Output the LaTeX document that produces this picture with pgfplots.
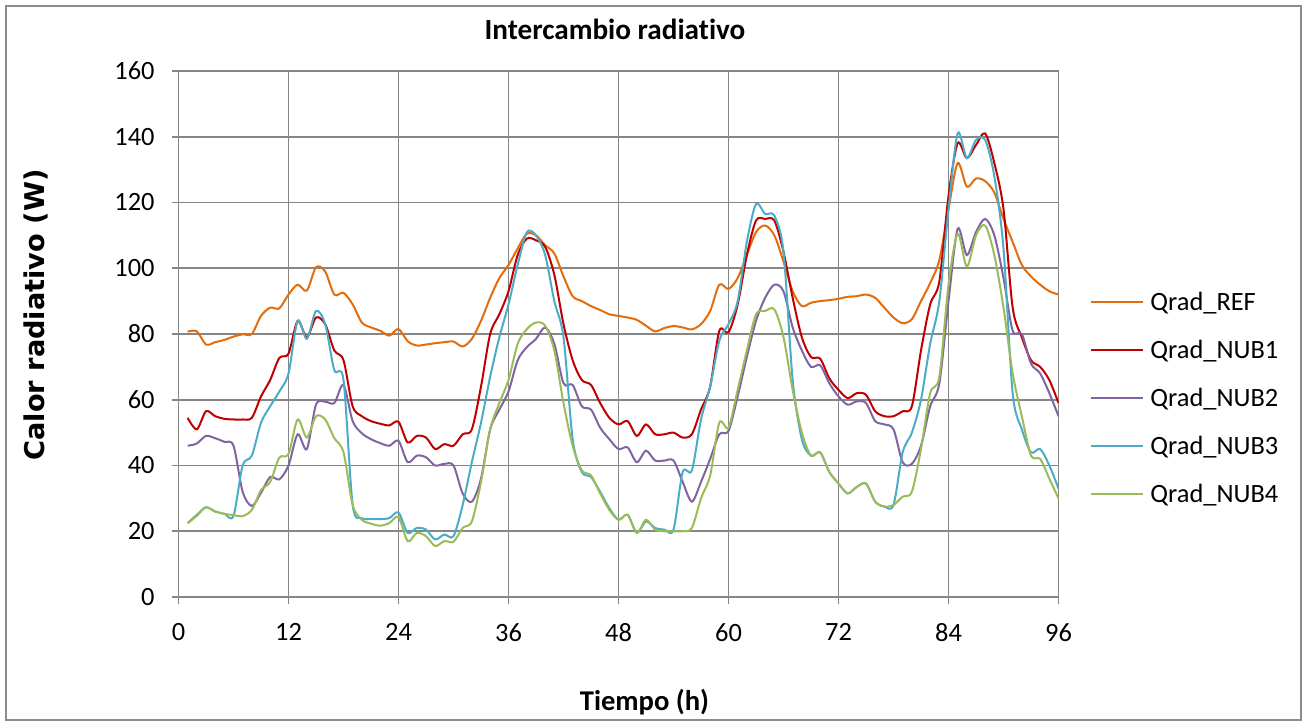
\documentclass[border=0pt]{standalone}
\usepackage{fontspec}
\setmainfont{Carlito}[Ligatures=NoCommon]
\newfontfamily\dejavu{DejaVu Sans}
\usepackage{pgfplots}
\usepackage{pgfplotstable}
\pgfplotsset{compat=1.18}

\definecolor{gridgray}{HTML}{868686}
\definecolor{framegray}{HTML}{8C8C8C}
\definecolor{cref}{HTML}{E46C0A}
\definecolor{cnubA}{HTML}{C00000}
\definecolor{cnubB}{HTML}{8064A2}
\definecolor{cnubC}{HTML}{4BACC6}
\definecolor{cnubD}{HTML}{9BBB59}

% Hourly radiative heat exchange (W)
\pgfplotstableread{
h ref n1 n2 n3 n4
1 80.7 54.5 46.0 22.5 22.4
2 80.8 51.0 46.7 25.0 24.7
3 76.8 56.5 49.0 27.3 27.3
4 77.5 55.0 48.3 26.0 26.0
5 78.2 54.2 47.2 25.3 25.3
6 79.2 54.0 46.0 24.7 24.9
7 79.9 54.0 32.0 40.0 24.6
8 80.0 54.5 27.7 43.0 26.5
9 85.5 61.0 31.7 53.0 32.5
10 88.0 66.0 36.5 58.0 35.0
11 87.8 72.7 35.8 62.5 42.4
12 92.0 74.0 40.0 68.0 43.5
13 95.0 84.0 49.5 84.0 54.0
14 93.2 79.0 45.0 78.5 48.5
15 100.3 85.0 58.5 87.0 55.0
16 99.0 83.0 59.4 83.0 54.0
17 92.0 75.0 59.0 69.0 48.3
18 92.5 72.0 64.5 66.0 44.0
19 89.0 58.0 53.5 28.0 28.0
20 83.5 55.0 49.8 24.0 23.5
21 82.0 53.5 48.0 23.7 22.3
22 81.0 52.7 46.8 23.7 21.7
23 79.5 52.2 46.0 24.0 22.5
24 81.5 53.3 47.5 25.7 24.3
25 77.8 47.0 41.0 19.5 17.0
26 76.5 49.0 43.0 21.0 19.5
27 76.8 48.5 42.5 20.5 18.5
28 77.2 45.0 40.0 17.5 15.5
29 77.5 46.5 40.5 19.0 17.0
30 77.7 46.0 40.0 18.5 16.8
31 76.2 49.5 31.5 28.0 21.0
32 78.5 51.0 29.0 41.0 23.0
33 84.0 64.0 36.0 53.0 35.0
34 91.0 80.0 51.0 67.0 51.0
35 97.0 86.0 57.0 79.0 59.0
36 101.0 93.0 62.5 89.0 66.0
37 106.0 104.0 72.0 101.0 77.0
38 110.5 109.0 76.0 111.0 81.5
39 110.0 108.5 78.5 110.0 83.5
40 107.0 106.5 82.0 104.0 82.5
41 104.5 98.0 77.0 90.0 75.0
42 97.5 83.0 65.0 79.0 59.0
43 91.5 72.0 64.5 48.0 46.0
44 90.0 66.0 58.0 38.0 38.5
45 88.5 64.5 57.0 36.5 37.0
46 87.3 59.0 51.5 32.0 31.5
47 86.0 54.5 48.0 27.0 26.5
48 85.5 52.5 45.0 23.5 23.5
49 85.0 53.5 45.5 25.0 25.0
50 84.3 49.0 41.0 19.5 19.5
51 82.5 52.5 44.5 23.0 23.5
52 80.8 49.5 41.5 21.0 20.5
53 81.8 49.5 41.5 20.5 20.0
54 82.4 50.0 41.5 20.5 20.0
55 82.0 48.5 35.0 38.0 20.0
56 81.4 49.5 29.0 38.5 21.0
57 83.0 57.0 35.0 54.0 30.0
58 87.0 64.0 42.0 64.0 37.0
59 95.0 81.0 49.5 78.0 53.0
60 93.7 80.5 50.5 83.0 51.5
61 97.0 89.0 61.0 90.0 63.0
62 104.0 104.0 73.0 108.0 75.0
63 111.0 114.5 84.0 119.5 86.0
64 113.0 115.0 91.0 116.5 87.0
65 110.0 114.5 95.0 116.0 87.5
66 102.0 105.0 93.0 105.0 79.0
67 93.0 91.0 82.0 66.0 63.0
68 88.5 79.0 75.0 48.0 50.0
69 89.5 73.0 70.0 43.0 43.0
70 90.0 72.5 70.5 44.0 44.0
71 90.3 66.5 65.0 38.0 38.0
72 90.7 63.0 61.0 34.5 34.5
73 91.3 60.5 58.5 31.5 31.5
74 91.5 62.0 59.5 33.5 33.5
75 92.0 61.5 59.0 34.5 34.5
76 91.0 56.5 53.5 29.0 29.0
77 88.0 55.0 52.5 27.5 27.5
78 85.0 55.0 51.0 28.0 28.0
79 83.3 56.5 41.0 44.0 30.5
80 84.5 58.0 40.5 50.0 32.0
81 90.0 75.0 46.0 60.0 45.0
82 95.5 89.0 58.0 77.0 62.0
83 102.5 96.0 65.0 90.0 67.0
84 118.0 122.0 90.0 118.0 95.0
85 132.0 138.0 112.0 141.0 110.5
86 124.8 133.5 104.0 133.5 100.5
87 127.3 137.5 111.0 139.0 110.0
88 126.5 141.0 115.0 139.0 113.0
89 123.0 132.0 110.0 128.0 104.0
90 115.0 118.0 97.0 106.0 88.0
91 108.0 88.0 81.0 62.0 68.0
92 101.0 79.0 80.0 51.0 55.0
93 97.5 72.0 71.0 44.0 43.0
94 95.0 70.0 68.0 45.0 42.0
95 93.0 66.0 62.0 40.0 36.0
96 92.0 59.0 55.0 33.0 30.0
}\datatab

\begin{document}
\begin{tikzpicture}
\path[use as bounding box] (-89.25pt,-64.5pt) rectangle (562.75pt,298.5pt);
\draw[framegray, line width=0.65pt] (-86.25pt,-61.5pt) rectangle (561.25pt,295.5pt);
\begin{axis}[
  at={(0pt,0pt)}, anchor=south west,
  width=440pt, height=263pt, scale only axis,
  xmin=0, xmax=96, ymin=0, ymax=160,
  xtick={0,12,...,96}, ytick={0,20,...,160},
  xtick pos=bottom, ytick pos=left,
  tick align=outside, major tick length=3.5pt,
  grid=major,
  major grid style={gridgray, line width=0.85pt},
  axis line style={gridgray, line width=0.85pt},
  tick style={gridgray, line width=0.85pt},
  /pgf/number format/assume math mode=true,
  ticklabel style={font=\fontsize{13.2}{15}\selectfont},
  yticklabel style={anchor=east, inner sep=0pt, xshift=-8.25pt},
  xticklabel style={anchor=north, inner sep=0pt, yshift=-9.5pt},
  legend style={at={(1.0358,0.3764)}, anchor=west, draw=none, fill=none,
    inner sep=0pt, row sep=12pt,
    font=\fontsize{13.2}{15}\selectfont,
    nodes={inner sep=0pt, text height=9.5pt, text depth=2.5pt},
    /tikz/every odd column/.append style={column sep=3pt}},
  legend cell align=left,
  legend image code/.code={\draw[#1] (0pt,0.5pt) -- (26pt,0.5pt);},
  every axis plot/.append style={line width=1pt, smooth},
]
\addplot[cref]  table[x=h, y=ref] {\datatab};
\addlegendentry{Qrad\_REF}
\addplot[cnubA] table[x=h, y=n1] {\datatab};
\addlegendentry{Qrad\_NUB1}
\addplot[cnubB] table[x=h, y=n2] {\datatab};
\addlegendentry{Qrad\_NUB2}
\addplot[cnubC] table[x=h, y=n3] {\datatab};
\addlegendentry{Qrad\_NUB3}
\addplot[cnubD] table[x=h, y=n4] {\datatab};
\addlegendentry{Qrad\_NUB4}
\end{axis}
\node[anchor=base, font=\fontsize{14.6}{17}\selectfont\bfseries] at (218.25pt,278.5pt) {Intercambio radiativo};
\node[anchor=base, font=\fontsize{14.3}{17}\selectfont\bfseries] at (233pt,-57pt) {Tiempo (h)};
\node[anchor=base, rotate=90, font=\dejavu\fontsize{13.6}{16}\selectfont\bfseries] at (-66.75pt,141pt) {Calor radiativo (W)};
\end{tikzpicture}
\end{document}
